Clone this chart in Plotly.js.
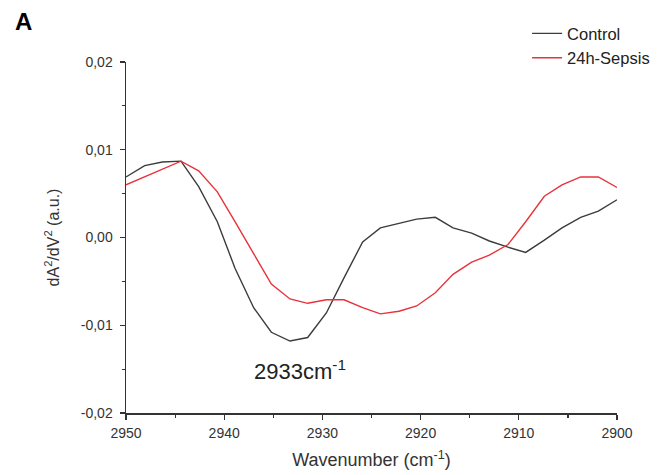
<!DOCTYPE html>
<html>
<head>
<meta charset="utf-8">
<script src="https://cdn.plot.ly/plotly-3.0.1.min.js"></script>
<style>html,body{margin:0;padding:0;background:#fff;}#chart{width:663px;height:475px;}</style>
</head>
<body>
<div id="chart"></div>
<script>
// Wavenumber (cm-1)
const wavenumber = [2950, 2948.1, 2946.3, 2944.4, 2942.6, 2940.7, 2938.9, 2937.0, 2935.2, 2933.3,
  2931.5, 2929.6, 2927.8, 2925.9, 2924.1, 2922.2, 2920.4, 2918.5, 2916.7, 2914.8,
  2913.0, 2911.1, 2909.3, 2907.4, 2905.6, 2903.7, 2901.9, 2900];
const controlValues = [0.0069, 0.0082, 0.0086, 0.0087, 0.0058, 0.0018, -0.0035, -0.0080, -0.0108, -0.0118,
  -0.0114, -0.0086, -0.0046, -0.0005, 0.0011, 0.0016, 0.0021, 0.0023, 0.0011, 0.0005,
  -0.0004, -0.0011, -0.0017, -0.0003, 0.0011, 0.0023, 0.0030, 0.0043];
const sepsisValues = [0.0060, 0.0069, 0.0078, 0.0087, 0.0076, 0.0052, 0.0018, -0.0018, -0.0053, -0.0070,
  -0.0075, -0.0071, -0.0071, -0.0080, -0.0087, -0.0084, -0.0078, -0.0063, -0.0042, -0.0028,
  -0.0020, -0.0008, 0.0018, 0.0047, 0.0060, 0.0069, 0.0069, 0.0057];
const seriesNames = ["Control", "24h-Sepsis"];
const xTickVals = [2950, 2940, 2930, 2920, 2910, 2900];
const xTickText = ["2950", "2940", "2930", "2920", "2910", "2900"];
const yTickVals = [0.02, 0.01, 0, -0.01, -0.02];
const yTickText = ["0,02", "0,01", "0,00", "-0,01", "-0,02"];

const font = "Liberation Sans, Arial, sans-serif";
const traces = [
  {x: wavenumber, y: controlValues, name: seriesNames[0], mode: "lines", line: {color: "#3c3c3c", width: 1.4}},
  {x: wavenumber, y: sepsisValues, name: seriesNames[1], mode: "lines", line: {color: "#e8323a", width: 1.4}}
];
const layout = {
  width: 663, height: 475,
  margin: {l: 126, r: 46, t: 62, b: 62, autoexpand: false},
  paper_bgcolor: "#fff", plot_bgcolor: "#fff",
  font: {family: font, color: "#333", size: 13},
  showlegend: true,
  legend: {xref: "container", yref: "container", x: 0.795, y: 0.966, xanchor: "left", yanchor: "top",
    bgcolor: "rgba(0,0,0,0)", font: {size: 16.5, family: font, color: "#222"}, tracegroupgap: 0, itemwidth: 30},
  xaxis: {
    range: [2950, 2900], showgrid: false, zeroline: false, showline: true, linecolor: "#333", linewidth: 1.5,
    ticks: "outside", ticklen: 5, tickwidth: 1.3, tickcolor: "#333", ticklabelstandoff: 2,
    tickvals: xTickVals, ticktext: xTickText, tickfont: {size: 14, family: font, color: "#333"},
    minor: {dtick: 5, ticks: "outside", ticklen: 3, tickwidth: 1.2, tickcolor: "#333", showgrid: false},
    title: {text: "Wavenumber (cm<sup>-1</sup>)", font: {size: 18, family: font, color: "#333"}, standoff: 13}
  },
  yaxis: {
    range: [-0.02, 0.02], showgrid: false, zeroline: false, showline: true, linecolor: "#333", linewidth: 1.5,
    ticks: "outside", ticklen: 5, tickwidth: 1.3, tickcolor: "#333", ticklabelstandoff: 4,
    tickvals: yTickVals, ticktext: yTickText, tickfont: {size: 14, family: font, color: "#333"},
    minor: {dtick: 0.005, ticks: "outside", ticklen: 3, tickwidth: 1.2, tickcolor: "#333", showgrid: false},
    title: {text: "dA<sup>2</sup>/dV<sup>2</sup> (a.u.)", font: {size: 16, family: font, color: "#333"}, standoff: 17}
  },
  annotations: [
    {text: "<b>A</b>", xref: "paper", yref: "paper", x: -0.2088, y: 1.116, xanchor: "center", yanchor: "middle",
      showarrow: false, font: {size: 24, family: font, color: "#000"}},
    {text: "2933cm<sup>-1</sup>", xref: "x", yref: "y", x: 2932.3, y: -0.0151, xanchor: "center", yanchor: "middle",
      showarrow: false, font: {size: 22, family: font, color: "#222"}}
  ]
};
Plotly.newPlot("chart", traces, layout, {displayModeBar: false, staticPlot: true});
</script>
</body>
</html>
